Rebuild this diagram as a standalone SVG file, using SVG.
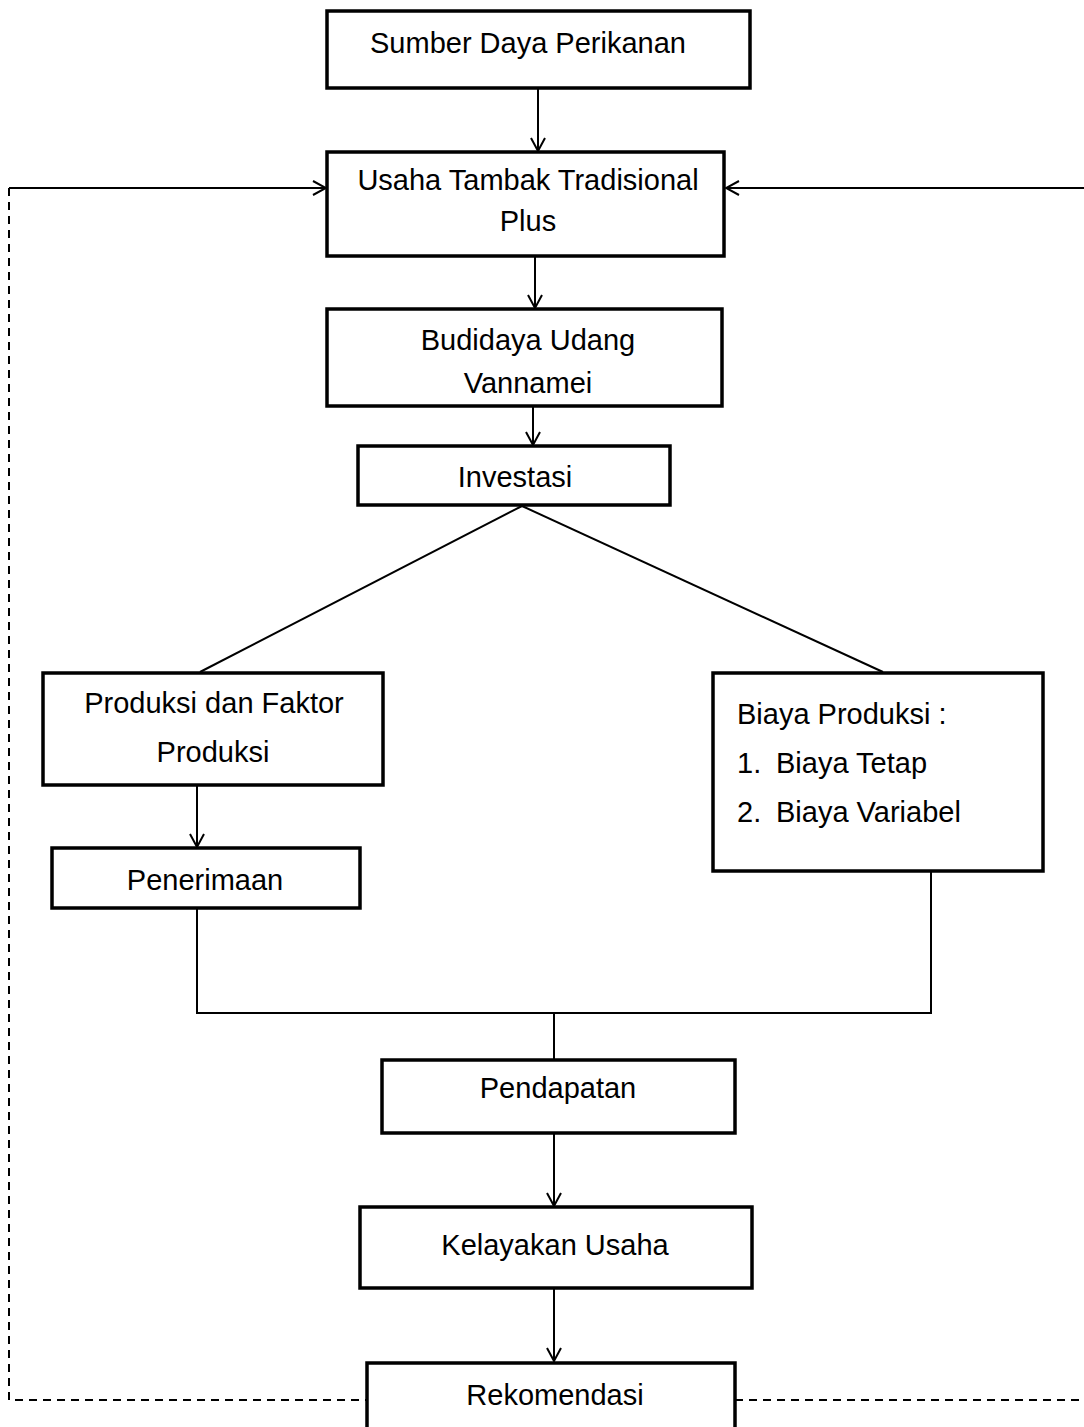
<svg xmlns="http://www.w3.org/2000/svg" width="1084" height="1427" viewBox="0 0 1084 1427">
<style>
.box{fill:#fff;stroke:#000;stroke-width:3.5}
.t{font-family:"Liberation Sans",Arial,sans-serif;font-size:29px;fill:#000}
.c{text-anchor:middle}
.ln{fill:none;stroke:#000;stroke-width:2}
.dash{fill:none;stroke:#000;stroke-width:2;stroke-dasharray:8 6}
</style>
<defs>
<marker id="ah" viewBox="0 0 15 16" refX="14" refY="8" markerWidth="15" markerHeight="16" markerUnits="userSpaceOnUse" orient="auto">
<path d="M1 1 L14 8 L1 15" fill="none" stroke="#000" stroke-width="2"/>
</marker>
</defs>
<g id="connectors">
<line class="ln" x1="538" y1="88" x2="538" y2="151" marker-end="url(#ah)"/>
<line class="ln" x1="9" y1="188" x2="326" y2="188" marker-end="url(#ah)"/>
<line class="ln" x1="1084" y1="188" x2="726" y2="188" marker-end="url(#ah)"/>
<line class="ln" x1="535" y1="256" x2="535" y2="308" marker-end="url(#ah)"/>
<line class="ln" x1="533" y1="406" x2="533" y2="445" marker-end="url(#ah)"/>
<line class="ln" x1="522" y1="506" x2="200" y2="672"/>
<line class="ln" x1="522" y1="506" x2="883" y2="672"/>
<line class="ln" x1="197" y1="785" x2="197" y2="847" marker-end="url(#ah)"/>
<polyline class="ln" points="197,908 197,1013 931,1013 931,871"/>
<line class="ln" x1="554" y1="1013" x2="554" y2="1060"/>
<line class="ln" x1="554" y1="1133" x2="554" y2="1206" marker-end="url(#ah)"/>
<line class="ln" x1="554" y1="1288" x2="554" y2="1361" marker-end="url(#ah)"/>
<polyline class="dash" points="9,188 9,1400 367,1400"/>
<line class="dash" x1="735" y1="1400" x2="1084" y2="1400"/>
</g>
<g id="n1"><rect class="box" x="327" y="11" width="423" height="77"/><text class="t c" x="528" y="53">Sumber Daya Perikanan</text></g>
<g id="n2"><rect class="box" x="327" y="152" width="397" height="104"/><text class="t c" x="528" y="190">Usaha Tambak Tradisional</text><text class="t c" x="528" y="231">Plus</text></g>
<g id="n3"><rect class="box" x="327" y="309" width="395" height="97"/><text class="t c" x="528" y="350">Budidaya Udang</text><text class="t c" x="528" y="393">Vannamei</text></g>
<g id="n4"><rect class="box" x="358" y="446" width="312" height="59"/><text class="t c" x="515" y="487">Investasi</text></g>
<g id="n5"><rect class="box" x="43" y="673" width="340" height="112"/><text class="t c" x="214" y="713">Produksi dan Faktor</text><text class="t c" x="213" y="762">Produksi</text></g>
<g id="n6"><rect class="box" x="713" y="673" width="330" height="198"/><text class="t" x="737" y="724">Biaya Produksi :</text><text class="t" x="737" y="773">1.</text><text class="t" x="776" y="773">Biaya Tetap</text><text class="t" x="737" y="822">2.</text><text class="t" x="776" y="822">Biaya Variabel</text></g>
<g id="n7"><rect class="box" x="52" y="848" width="308" height="60"/><text class="t c" x="205" y="890">Penerimaan</text></g>
<g id="n8"><rect class="box" x="382" y="1060" width="353" height="73"/><text class="t c" x="558" y="1098">Pendapatan</text></g>
<g id="n9"><rect class="box" x="360" y="1207" width="392" height="81"/><text class="t c" x="555" y="1255">Kelayakan Usaha</text></g>
<g id="n10"><rect class="box" x="367" y="1363" width="368" height="80"/><text class="t c" x="555" y="1405">Rekomendasi</text></g>
</svg>
